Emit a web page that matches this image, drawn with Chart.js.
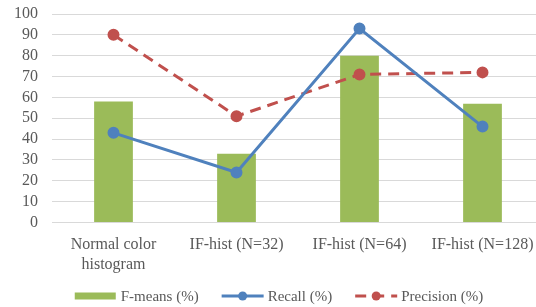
<!DOCTYPE html>
<html>
<head>
<meta charset="utf-8">
<script src="https://cdn.jsdelivr.net/npm/chart.js@4"></script>
<style>
  html, body { margin: 0; padding: 0; background: #fff; overflow: hidden; }
  #wrap { width: 536px; height: 307px; overflow: hidden; }
</style>
</head>
<body>
<div id="wrap"><canvas id="c" width="544" height="307"></canvas></div>
<script>
const categories = [['Normal color', 'histogram'], 'IF-hist (N=32)', 'IF-hist (N=64)', 'IF-hist (N=128)'];
const fMeans = [58, 33, 80, 57];
const recall = [43, 24, 93, 46];
const precision = [90, 51, 71, 72];
const yTicks = [0, 10, 20, 30, 40, 50, 60, 70, 80, 90, 100];

const FONT = '"Liberation Serif", "Times New Roman", serif';

// simple legend drawn under the chart, Excel style
const excelLegend = {
  id: 'excelLegend',
  afterDraw(chart) {
    const ctx = chart.ctx;
    const y = 296;
    ctx.save();
    ctx.font = '15px ' + FONT;
    ctx.textBaseline = 'middle';
    const items = chart.data.datasets.map(ds => ({ ds, w: 42 + 4 + ctx.measureText(ds.label).width }));
    const gap = 23;
    const total = items.reduce((s, it) => s + it.w, 0) + gap * (items.length - 1);
    let x = 279 - total / 2;
    items.forEach(({ ds, w }) => {
      if (ds.type === 'bar') {
        ctx.fillStyle = ds.backgroundColor;
        ctx.fillRect(x, y - 3.5, 41, 7);
      } else {
        ctx.strokeStyle = ds.borderColor;
        ctx.lineWidth = 3;
        ctx.setLineDash(ds.borderDash || []);
        ctx.beginPath();
        ctx.moveTo(x, y);
        ctx.lineTo(x + 42, y);
        ctx.stroke();
        ctx.setLineDash([]);
        ctx.fillStyle = ds.pointBackgroundColor;
        ctx.beginPath();
        ctx.arc(x + 21, y, 4.5, 0, Math.PI * 2);
        ctx.fill();
      }
      ctx.fillStyle = '#595959';
      ctx.fillText(ds.label, x + 46, y + 1);
      x += w + gap;
    });
    ctx.restore();
  }
};

new Chart(document.getElementById('c'), {
  data: {
    labels: categories,
    datasets: [
      {
        type: 'bar', label: 'F-means (%)', data: fMeans, order: 3,
        backgroundColor: '#9bbb59', barPercentage: 0.315, categoryPercentage: 1
      },
      {
        type: 'line', label: 'Recall (%)', data: recall, order: 1,
        borderColor: '#4f81bd', backgroundColor: '#4f81bd', pointBackgroundColor: '#4f81bd',
        pointBorderColor: '#4f81bd', borderWidth: 3, pointRadius: 4.5, tension: 0, clip: false
      },
      {
        type: 'line', label: 'Precision (%)', data: precision, order: 2,
        borderColor: '#c0504d', backgroundColor: '#c0504d', pointBackgroundColor: '#c0504d',
        pointBorderColor: '#c0504d', borderWidth: 3, borderDash: [11, 7], pointRadius: 4.5, tension: 0, clip: false
      }
    ]
  },
  options: {
    responsive: false,
    animation: false,
    layout: { autoPadding: false, padding: { top: 14, bottom: 0, left: 0, right: 0 } },
    plugins: { legend: { display: false }, tooltip: { enabled: false } },
    scales: {
      x: {
        grid: { display: false },
        border: { color: '#d9d9d9', width: 1 },
        ticks: { color: '#595959', font: { family: FONT, size: 16, lineHeight: 1.2 }, padding: 5, maxRotation: 0, autoSkip: false },
        afterFit: s => { s.height = 307 - 222.5; s.paddingLeft = 0; s.paddingRight = 0; }
      },
      y: {
        min: 0, max: 100,
        afterBuildTicks: axis => { axis.ticks = yTicks.map(v => ({ value: v })); },
        grid: { color: '#d9d9d9', lineWidth: 1, drawTicks: false },
        border: { display: false },
        ticks: { color: '#595959', font: { family: FONT, size: 16 }, padding: 14, autoSkip: false },
        afterFit: s => { s.width = 52; s.paddingTop = 0; s.paddingBottom = 0; }
      }
    }
  },
  plugins: [excelLegend]
});
</script>
</body>
</html>
